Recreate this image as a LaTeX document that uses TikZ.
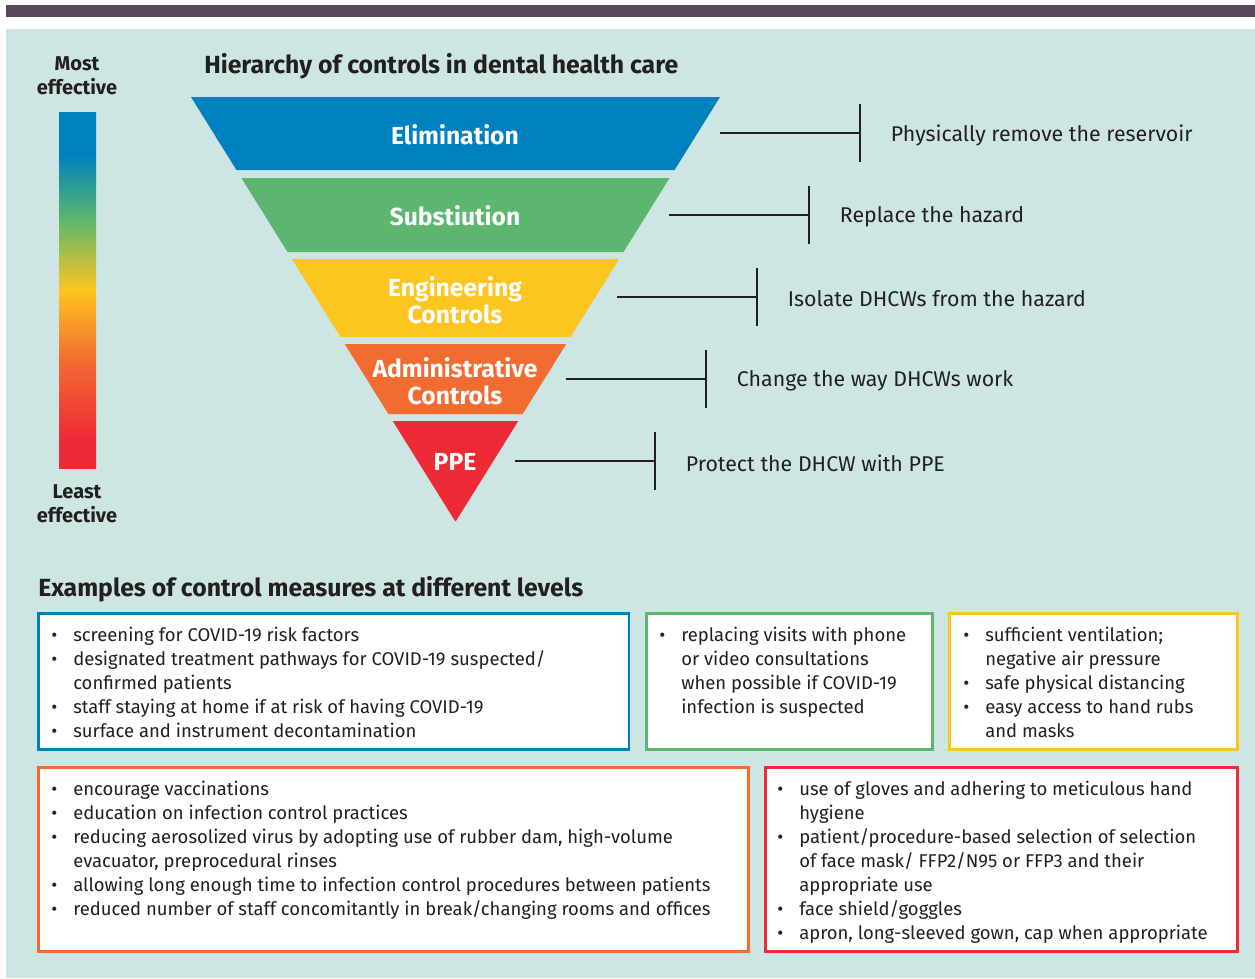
\documentclass[tikz,border=0pt]{standalone}
\usepackage{fontspec}
\setmainfont{Fira Sans}
\usepackage{tikz}
\usetikzlibrary{positioning}
\usepackage{xcolor}
\definecolor{elimblue}{HTML}{0081BF}
\definecolor{subsgreen}{HTML}{5CB66F}
\definecolor{engiyellow}{HTML}{FDC51F}
\definecolor{admiorange}{HTML}{F26B31}
\definecolor{pped}{HTML}{EE2A36}
\definecolor{panelteal}{HTML}{CDE6E3}
\definecolor{topbar}{HTML}{5A4659}
\definecolor{inkgray}{HTML}{231F20}
\pgfdeclareverticalshading{effshade}{100bp}{color(0bp)=(pped); color(25bp)=(pped); color(29bp)=(pped); color(40bp)=(admiorange); color(50bp)=(engiyellow); color(60bp)=(subsgreen); color(69bp)=(elimblue); color(75bp)=(elimblue); color(100bp)=(elimblue)}
\newcommand{\bitem}{\makebox[16.5pt][l]{•}}
\newcommand{\bcont}{\hspace*{16.5pt}}

\begin{document}
\begin{tikzpicture}[x=0.75pt, y=-0.75pt,
    bandlabel/.style={text=white, font=\fontsize{18.5}{20.5}\selectfont\bfseries, align=center},
    desc/.style={inner sep=0pt, text=inkgray, font=\fontsize{16}{19}\selectfont},
    heading/.style={anchor=west, inner sep=0pt, text=inkgray, font=\fontsize{18.6}{22}\selectfont\bfseries},
    scalelabel/.style={text=inkgray, align=center, font=\fontsize{15}{18}\selectfont\bfseries},
    conn/.style={draw=inkgray, line width=0.8pt},
    exbox/.style={draw, fill=white, line width=1.9pt, anchor=north west, inner sep=0pt},
    listtext/.style={anchor=north west, inner sep=0pt, align=left, text=inkgray, font=\fontsize{13.85}{18}\selectfont}]
  \useasboundingbox (0,0) rectangle (1255,978);
  % header bar and panel
  \fill[topbar] (6,5) rectangle (1255,17);
  \fill[panelteal] (6,29) rectangle (1255,978);

  % effectiveness scale
  \shade[shading=effshade] (59,112) rectangle (96,468);
  \node[scalelabel] (most) at (77,76) {Most\\effective};
  \node[scalelabel] (least) at (77,504) {Least\\effective};

  \node[heading] (title) at (204,66) {Hierarchy of controls in dental health care};

  % inverted pyramid
  \foreach \top/\bot/\col in {97/170/elimblue, 178/252/subsgreen, 259/337/engiyellow, 344/414/admiorange, 421/521/pped}
    \fill[\col] ({191+(\top-97)*0.6226},\top) -- ({720-(\top-97)*0.6226},\top)
      -- ({720-(\bot-97)*0.6226},\bot) -- ({191+(\bot-97)*0.6226},\bot) -- cycle;
  \node[bandlabel] (elim) at (455,135) {Elimination};
  \node[bandlabel] (subs) at (455,216) {Substiution};
  \node[bandlabel] (engi) at (455,300) {Engineering\\Controls};
  \node[bandlabel] (admi) at (455,381) {Administrative\\Controls};
  \node[bandlabel] (ppe) at (455,462) {PPE};

  % brackets and descriptions
  \foreach \nm/\xs/\yy/\lbl in {elim/720/133/Physically remove the reservoir,
      subs/669/215/Replace the hazard, engi/617/297/Isolate DHCWs from the hazard,
      admi/566/379/Change the way DHCWs work, ppe/515/461/Protect the DHCW with PPE}{
    \coordinate (\nm R) at (\xs,\yy);
    \coordinate (\nm T) at ({\xs+140},\yy);
    \draw[conn] (\nm R) -- (\nm T);
    \draw[conn] ([yshift=22pt]\nm T) -- ([yshift=-22pt]\nm T);
    \node[desc, anchor=west, right=23pt of \nm T, yshift=-1.5pt] (\nm desc) {\lbl};
  }

  \node[heading] (examples) at (38,589) {Examples of control measures at different levels};

  % example boxes
  \node[exbox, draw=elimblue, minimum width=443pt, minimum height=102pt] (elimbox) at (37,612) {};
  \node[exbox, draw=subsgreen, minimum width=214.5pt, minimum height=102pt] (subsbox) at (645,612) {};
  \node[exbox, draw=engiyellow, minimum width=216pt, minimum height=102pt] (engibox) at (948,612) {};
  \node[exbox, draw=admiorange, minimum width=532.5pt, minimum height=138pt] (admibox) at (37,766) {};
  \node[exbox, draw=pped, minimum width=354pt, minimum height=138pt] (ppebox) at (764,766) {};

  \node[listtext] (elimlist) at (51,624) {\strut\bitem screening for COVID-19 risk factors\\
    \bitem designated treatment pathways for COVID-19 suspected/\\
    \bcont confirmed patients\\
    \bitem staff staying at home if at risk of having COVID-19\\
    \bitem surface and instrument decontamination};
  \node[listtext] (subslist) at (659,624) {\strut\bitem replacing visits with phone\\
    \bcont or video consultations\\
    \bcont when possible if COVID-19\\
    \bcont infection is suspected};
  \node[listtext] (engilist) at (963,624) {\strut\bitem sufficient ventilation;\\
    \bcont negative air pressure\\
    \bitem safe physical distancing\\
    \bitem easy access to hand rubs\\
    \bcont and masks};
  \node[listtext] (admilist) at (51,778) {\strut\bitem encourage vaccinations\\
    \bitem education on infection control practices\\
    \bitem reducing aerosolized virus by adopting use of rubber dam, high-volume\\
    \bcont evacuator, preprocedural rinses\\
    \bitem allowing long enough time to infection control procedures between patients\\
    \bitem reduced number of staff concomitantly in break/changing rooms and offices};
  \node[listtext] (ppelist) at (777,778) {\strut\bitem use of gloves and adhering to meticulous hand\\
    \bcont hygiene\\
    \bitem patient/procedure-based selection of selection\\
    \bcont of face mask/ FFP2/N95 or FFP3 and their\\
    \bcont appropriate use\\
    \bitem face shield/goggles\\
    \bitem apron, long-sleeved gown, cap when appropriate};
\end{tikzpicture}
\end{document}
